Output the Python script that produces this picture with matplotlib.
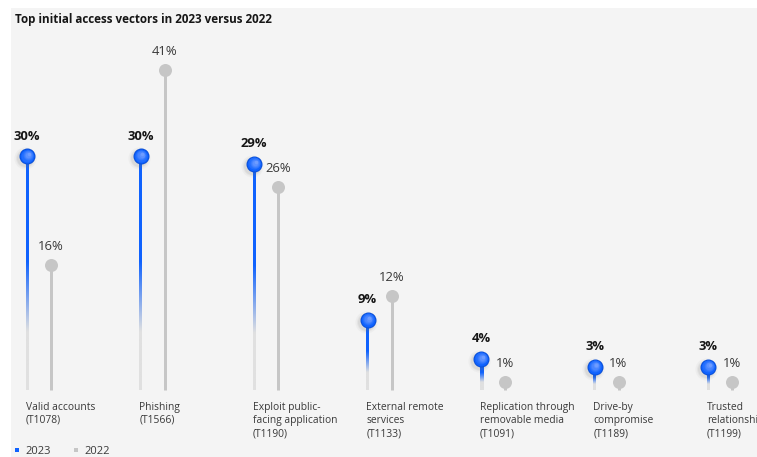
import numpy as np
import matplotlib
matplotlib.use("Agg")
import matplotlib.pyplot as plt
from matplotlib.colors import to_rgb
from matplotlib.lines import Line2D
from matplotlib.patches import Rectangle
import matplotlib.transforms as mtransforms

plt.rcParams["font.family"] = ["Open Sans", "DejaVu Sans"]

title = "Top initial access vectors in 2023 versus 2022"
categories = [
    "Valid accounts\n(T1078)",
    "Phishing\n(T1566)",
    "Exploit public-\nfacing application\n(T1190)",
    "External remote\nservices\n(T1133)",
    "Replication through\nremovable media\n(T1091)",
    "Drive-by\ncompromise\n(T1189)",
    "Trusted\nrelationship\n(T1199)",
]
share_2023 = [30, 30, 29, 9, 4, 3, 3]
share_2022 = [16, 41, 26, 12, 1, 1, 1]
series_labels = ["2023", "2022"]

BLUE = "#0f62fe"
GREY = "#c6c6c6"
STEM_FADE = "#e0e0e0"
PANEL = "#f4f4f4"
INK = "#161616"
INK_SOFT = "#393939"

W, H, DPI = 757, 457, 100
PT = 72 / DPI  # points per pixel

fig = plt.figure(figsize=(W / DPI, H / DPI), dpi=DPI)
fig.patch.set_facecolor("white")
fig.add_artist(Rectangle((11 / W, 0), 1, 1 - 8 / H, transform=fig.transFigure,
                         facecolor=PANEL, edgecolor="none", zorder=0))

ax = fig.add_axes([0, 0, 1, 1])
ax.set_facecolor("none")
ax.axis("off")

# horizontal scale: one category slot per ~113 px, first stem at x=27 px
slot_px, first_px = 113.5, 27
xlim = (-first_px / slot_px, (W - first_px) / slot_px)
# vertical scale: baseline at 390 px from top, ~7.8 px per percent
pct_px, base_px = 7.8, 390
ylim = (-(H - base_px) / pct_px, base_px / pct_px)

x = np.arange(len(categories))
x_prev = x + 24 / slot_px
stem_half = 1.5 / slot_px  # half of a 3 px stem, in data units

# vertical colour ramp for the 2023 stems: blue at the top, fading lower down
t = np.linspace(0, 1, 200)
w = np.clip((t - 0.45) / 0.3, 0, 1)[:, None]
ramp = (1 - w) * np.array(to_rgb(BLUE)) + w * np.array(to_rgb(STEM_FADE))
ramp = ramp[:, None, :]


def offset(dx_px, dy_px):
    return mtransforms.offset_copy(ax.transData, fig=fig, x=dx_px * PT,
                                   y=dy_px * PT, units="points")


# 2022 stems and markers
ax.vlines(x_prev, 0, share_2022, colors=GREY, linewidth=3 * PT, zorder=2)
ax.plot(x_prev, share_2022, "o", color=GREY, markersize=13 * PT,
        markeredgewidth=0, zorder=3)

# 2023 stems with fading colour
for xi, v in zip(x, share_2023):
    ax.imshow(ramp, extent=(xi - stem_half, xi + stem_half, 0, v), origin="upper",
              aspect="auto", interpolation="bilinear", zorder=2)

# soft drop shadow under the 2023 spheres
for size, alpha in [(22, 0.05), (19, 0.07), (17, 0.09)]:
    ax.plot(x, share_2023, "o", color="#6f6f6f", alpha=alpha,
            markersize=size * PT, markeredgewidth=0, zorder=4,
            transform=offset(-2, -2))

# shaded sphere: base colour then lighter discs toward the upper right
ax.plot(x, share_2023, "o", color="#0a4fd6", markersize=16 * PT,
        markeredgewidth=0, zorder=5)
shade_top = np.array(to_rgb("#6f9dff"))
shade_base = np.array(to_rgb(BLUE))
steps = 6
for k in range(steps):
    f = k / (steps - 1)
    col = (1 - f) * shade_base + f * shade_top
    size = 14 - 10.5 * f
    ax.plot(x, share_2023, "o", color=col, markersize=size * PT,
            markeredgewidth=0, zorder=5 + k * 0.01,
            transform=offset(1.6 * f, 1.6 * f))

# value labels
for xi, v in zip(x, share_2023):
    ax.annotate(f"{v}%", (xi, v), xytext=(0, 20 * PT), textcoords="offset points",
                ha="center", va="center", fontsize=9.4, fontweight="bold",
                color=INK, zorder=6)
for xi, v in zip(x_prev, share_2022):
    ax.annotate(f"{v}%", (xi, v), xytext=(0, 19 * PT), textcoords="offset points",
                ha="center", va="center", fontsize=9.4, color=INK_SOFT, zorder=6)

# category labels under the baseline
for xi, cat in zip(x, categories):
    ax.annotate(cat, (xi, 0), xytext=(-1 * PT, -12 * PT), textcoords="offset points",
                ha="left", va="top", fontsize=7.4, color=INK_SOFT,
                linespacing=1.25, annotation_clip=False)

ax.set_xlim(*xlim)
ax.set_ylim(*ylim)

fig.text(15 / W, 1 - 20 / H, title, ha="left", va="center", fontsize=8.4,
         fontweight="bold", color=INK)

handles = [Line2D([], [], marker="s", linestyle="none", color=c,
                  markersize=4.5 * PT, markeredgewidth=0) for c in (BLUE, GREY)]
fig.legend(handles, series_labels, loc="center left",
           bbox_to_anchor=(14 / W, 1 - 451 / H), ncol=2, frameon=False,
           fontsize=8.0, labelcolor=INK_SOFT, handlelength=0.5,
           handletextpad=0.5, columnspacing=2.0, borderpad=0, borderaxespad=0)

fig.savefig("out.png", dpi=DPI, facecolor=fig.get_facecolor())
